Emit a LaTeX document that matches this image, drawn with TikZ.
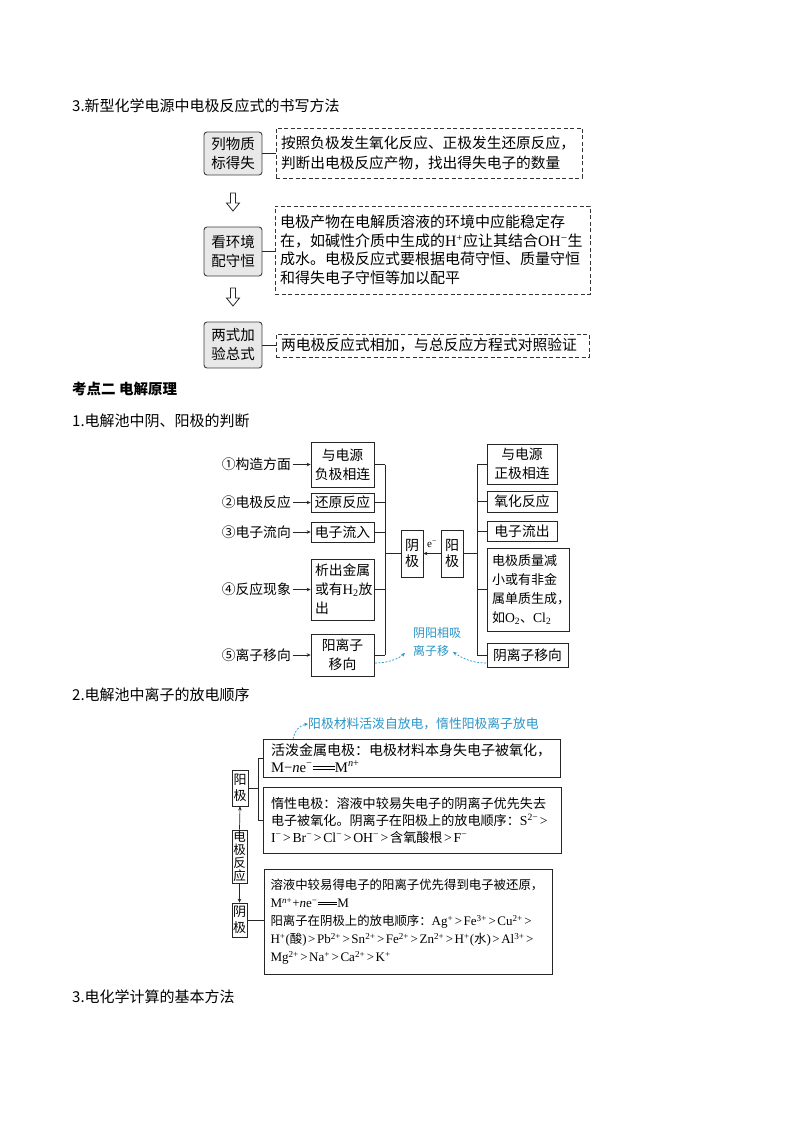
\documentclass[tikz,border=0pt]{standalone}
\usepackage{fontspec}
\setmainfont{Noto Sans CJK SC}
\newfontfamily\lat{Liberation Serif}[Scale=1.05]
\newcommand\lt[1]{{\lat #1}}
\newcommand\gtr{\hspace{0.12em}>\hspace{0.12em}}
\newcommand\deq{\raisebox{0.2em}{\vbox{\hrule width 1.6em height 0.6pt\kern 1.8pt\hrule width 1.6em height 0.6pt}}}
\usetikzlibrary{arrows.meta}
\definecolor{hand}{HTML}{2B95C8}
\begin{document}
\begin{tikzpicture}[x=1pt,y=-1pt,
  hd/.style={anchor=west,inner sep=0pt,font=\fontsize{15}{18}\selectfont},
  gbox/.style={draw=black!75,fill=black!9,rounded corners=3pt,line width=0.9pt,inner sep=0pt,align=center,font=\fontsize{14.5}{19}\selectfont},
  dbox/.style={draw=black!80,dash pattern=on 4pt off 2.5pt,line width=0.9pt,inner xsep=5pt,inner ysep=0pt,align=left},
  sbox/.style={draw=black!85,line width=0.7pt,inner sep=0pt,align=center,font=\fontsize{13.8}{19}\selectfont},
  tbox/.style={draw=black!85,line width=0.7pt,inner ysep=0pt,align=left},
  lab/.style={anchor=east,inner sep=0pt,font=\fontsize{13.8}{17}\selectfont},
  ln/.style={draw=black!85,line width=0.7pt},
  arr/.style={draw=black!85,line width=0.7pt,-{Stealth[length=4pt,width=3.5pt]}},
  hollow/.style={draw=black!85,line width=0.8pt,line join=miter},
  handtext/.style={inner sep=0pt,text=hand,align=left},
  handarrow/.style={draw=hand,dash pattern=on 2pt off 1.5pt,line width=0.7pt,-{Stealth[length=4pt,width=3.5pt]}}
]
\fill[white] (0,0) rectangle (794,1123);
\path[use as bounding box] (0,0) rectangle (794,1123);

% ---------- Section: 3. 新型化学电源 ----------
\node[hd] (h1) at (72,106) {3.新型化学电源中电极反应式的书写方法};

\node[gbox,minimum width=58,minimum height=43] (g1) at (233,153.5) {列物质\\标得失};
\node[dbox,text width=296,minimum height=50,font=\fontsize{14.7}{20}\selectfont] (d1) at (429,153) {按照负极发生氧化反应、正极发生还原反应，\\判断出电极反应产物，找出得失电子的数量};
\draw[ln,line width=0.9pt] (g1.east) -- (g1.east -| d1.west);

\draw[hollow] (230.5,193) -- (235.5,193) -- (235.5,203) -- (239.5,203) -- (233,211) -- (226.5,203) -- (230.5,203) -- cycle;

\node[gbox,minimum width=58,minimum height=49] (g2) at (233,251.5) {看环境\\配守恒};
\node[dbox,text width=305,minimum height=88,font=\fontsize{15}{18.5}\selectfont] (d2) at (432.5,250) {电极产物在电解质溶液的环境中应能稳定存\\\mbox{在，如碱性介质中生成的\lt{H\textsuperscript{+}}应让其结合\lt{OH\textsuperscript{−}}生}\\成水。电极反应式要根据电荷守恒、质量守恒\\和得失电子守恒等加以配平};
\draw[ln,line width=0.9pt] (g2.east) -- (g2.east -| d2.west);

\draw[hollow] (230.5,288) -- (235.5,288) -- (235.5,298) -- (239.5,298) -- (233,306) -- (226.5,298) -- (230.5,298) -- cycle;

\node[gbox,minimum width=58,minimum height=46] (g3) at (233,345) {两式加\\验总式};
\node[dbox,text width=303,minimum height=23,font=\fontsize{14.8}{18}\selectfont] (d3) at (432.5,345.5) {两电极反应式相加，与总反应方程式对照验证};
\draw[ln,line width=0.9pt] (g3.east) -- (g3.east -| d3.west);

% ---------- 考点二 ----------
\node[hd,font=\bfseries\fontsize{14.5}{18}\selectfont] (h2) at (72,389) {考点二 电解原理};
\node[hd] (h3) at (72,421) {1.电解池中阴、阳极的判断};

\node[lab] (l1) at (291,464.5) {①构造方面};
\node[lab] (l2) at (291,502.5) {②电极反应};
\node[lab] (l3) at (291,532) {③电子流向};
\node[lab] (l4) at (291,589.5) {④反应现象};
\node[lab] (l5) at (291,655) {⑤离子移向};

\node[sbox,minimum width=63,minimum height=45] (A1) at (342.5,464.5) {与电源\\负极相连};
\node[sbox,minimum width=63,minimum height=19] (A2) at (342.5,502.5) {还原反应};
\node[sbox,minimum width=63,minimum height=20] (A3) at (342.5,532) {电子流入};
\node[tbox,inner xsep=4pt,text width=55,minimum height=61,font=\fontsize{13.8}{19}\selectfont] (A4) at (342.5,589.5) {析出金属\\或有\lt{H\textsubscript{2}}放\\出};
\node[sbox,minimum width=63,minimum height=42] (A5) at (342.5,655) {阳离子\\移向};

\foreach \i in {1,...,5}{\draw[arr,shorten <=1.5pt] (l\i.east) -- (A\i.west |- l\i.east);}

\coordinate (busL) at (385,553.5);
\foreach \i in {1,...,5}{\draw[ln] (A\i.east) -- (A\i.east -| busL);}
\draw[ln] (A1.east -| busL) -- (A5.east -| busL);

\node[sbox,minimum width=22,minimum height=47,font=\fontsize{14}{16}\selectfont] (yin) at (412,553.5) {阴\\极};
\node[sbox,minimum width=22,minimum height=47,font=\fontsize{14}{16}\selectfont] (yang) at (452,553.5) {阳\\极};
\draw[ln] (busL) -- (yin.west);
\draw[arr] (yang.west) -- (yin.east);
\node[inner sep=0pt,font=\fontsize{10.5}{12}\selectfont] (e) at (432,544) {\lt{e\textsuperscript{−}}};

\coordinate (busR) at (477,553.5);
\draw[ln] (yang.east) -- (busR);

\node[sbox,minimum width=70,minimum height=40] (B1) at (522,464) {与电源\\正极相连};
\node[sbox,minimum width=70,minimum height=21] (B2) at (522,501.5) {氧化反应};
\node[sbox,minimum width=70,minimum height=20] (B3) at (522,531) {电子流出};
\node[tbox,inner xsep=5pt,text width=72,minimum height=83,font=\fontsize{13}{19}\selectfont] (B4) at (528,589.5) {电极质量减\\小或有非金\\属单质生成，\\如\lt{O\textsubscript{2}}、\lt{Cl\textsubscript{2}}};
\node[sbox,minimum width=81,minimum height=24] (B5) at (527.5,655) {阴离子移向};

\foreach \i in {1,...,5}{\draw[ln] (busR |- B\i.west) -- (B\i.west);}
\draw[ln] (busR |- B1.west) -- (busR |- B5.west);

\node[handtext,anchor=north west,font=\fontsize{12}{18}\selectfont] (xi) at (413,627) {阴阳相吸\\离子移};
\coordinate (c1s) at (375,663);
\coordinate (c1e) at (405,653);
\coordinate (c2s) at (486,663);
\coordinate (c2e) at (453,652);
\draw[handarrow] (c1s) .. controls (388,663) and (398,659) .. (c1e);
\draw[handarrow] (c2s) .. controls (472,663) and (462,658) .. (c2e);

% ---------- 2. 放电顺序 ----------
\node[hd] (h4) at (72,695) {2.电解池中离子的放电顺序};

\node[handtext,anchor=west,font=\fontsize{12.8}{15}\selectfont] (note) at (308,724) {阳极材料活泼自放电，惰性阳极离子放电};

\node[tbox,inner xsep=8pt,text width=281,minimum height=38,font=\fontsize{14}{16.5}\selectfont] (C1) at (411.5,758) {活泼金属电极：电极材料本身失电子被氧化，\\\mbox{\lt{M−\textit{n}e\textsuperscript{−}}\deq\lt{M\textsuperscript{\textit{n}+}}}};
\coordinate (c3s) at (293,739);
\draw[handarrow] (c3s) .. controls (295,730) and (300,725) .. (note.west);

\node[sbox,minimum width=16,minimum height=36,font=\fontsize{13}{16}\selectfont] (yangj) at (240,788) {阳\\极};
\node[tbox,inner xsep=8pt,text width=282,minimum height=66,font=\fontsize{13.1}{17}\selectfont] (C2) at (412,820) {惰性电极：溶液中较易失电子的阴离子优先失去\\\mbox{电子被氧化。阴离子在阳极上的放电顺序：\lt{S\textsuperscript{2−}\gtr}}\\\mbox{\lt{I\textsuperscript{−}\gtr Br\textsuperscript{−}\gtr Cl\textsuperscript{−}\gtr OH\textsuperscript{−}\gtr}含氧酸根\lt{\gtr F\textsuperscript{−}}}};

\node[sbox,minimum width=15,minimum height=53,font=\fontsize{12.5}{13}\selectfont] (dj) at (239.5,856.5) {电\\极\\反\\应};
\node[sbox,minimum width=15,minimum height=34,font=\fontsize{13}{16}\selectfont] (yinj) at (239.5,920) {阴\\极};

\node[tbox,inner xsep=6.5pt,text width=275,minimum height=105,font=\fontsize{12.4}{18}\selectfont] (C3) at (408,921.5) {溶液中较易得电子的阳离子优先得到电子被还原，\\\mbox{\lt{M\textsuperscript{\textit{n}+}+\textit{n}e\textsuperscript{−}}\deq\lt{M}}\\\mbox{阳离子在阴极上的放电顺序：\lt{Ag\textsuperscript{+}\gtr Fe\textsuperscript{3+}\gtr Cu\textsuperscript{2+}\gtr}}\\\mbox{\lt{H\textsuperscript{+}(}酸\lt{)\gtr Pb\textsuperscript{2+}\gtr Sn\textsuperscript{2+}\gtr Fe\textsuperscript{2+}\gtr Zn\textsuperscript{2+}\gtr H\textsuperscript{+}(}水\lt{)\gtr Al\textsuperscript{3+}\gtr}}\\\mbox{\lt{Mg\textsuperscript{2+}\gtr Na\textsuperscript{+}\gtr Ca\textsuperscript{2+}\gtr K\textsuperscript{+}}}};

\coordinate (bk) at (258,788);
\draw[ln] (yangj.east) -- (yangj.east -| bk);
\draw[ln] (bk |- C1.west) -- (C1.west);
\draw[ln] (bk |- C1.west) -- (bk |- C2.west);
\draw[ln] (bk |- C2.west) -- (C2.west);
\draw[arr] (dj.north) -- (yangj.south);
\draw[arr] (dj.south) -- (yinj.north);
\draw[ln] (yinj.east) -- (C3.west |- yinj.east);

\node[hd] (h5) at (72,997) {3.电化学计算的基本方法};
\end{tikzpicture}
\end{document}
